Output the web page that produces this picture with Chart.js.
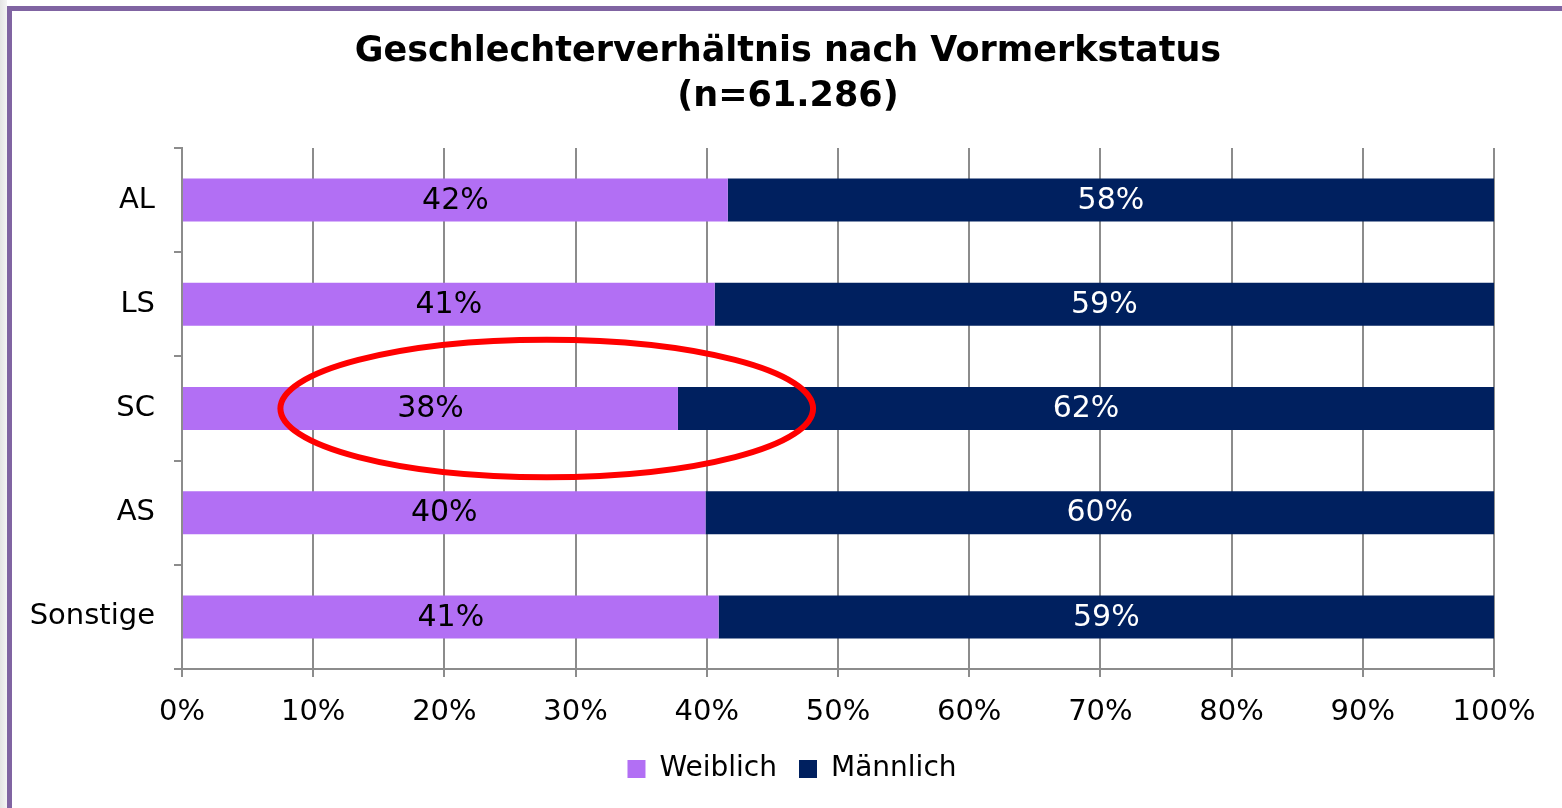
<!DOCTYPE html>
<html>
<head>
<meta charset="utf-8">
<script src="https://cdn.jsdelivr.net/npm/chart.js@4.4.1/dist/chart.umd.min.js"></script>
<style>
  html, body { margin: 0; padding: 0; background: #ffffff; width: 1562px; height: 808px; overflow: hidden; }
  #shade { position: absolute; left: 0; top: 0; width: 7px; height: 808px; background: linear-gradient(to right, #e4e4e4, #f4f4f4); }
  #frame { position: absolute; left: 7px; top: 6px; width: 1600px; height: 798px; border-left: 5px solid #8064a2; border-top: 5px solid #8064a2; border-bottom: 2px solid #a898c0; background: #ffffff; }
  #wrap { position: absolute; left: 0; top: 0; width: 1562px; height: 808px; }
</style>
</head>
<body>
<div id="shade"></div>
<div id="frame"></div>
<div id="wrap"><canvas id="c" width="1562" height="808"></canvas></div>
<script>
const categories = ['AL', 'LS', 'SC', 'AS', 'Sonstige'];
const weiblich = [41.6, 40.6, 37.8, 39.9, 40.9];
const maennlich = [58.4, 59.4, 62.2, 60.1, 59.1];
const seriesNames = ['Weiblich', 'Männlich'];
const titleLines = ['Geschlechterverhältnis nach Vormerkstatus', '(n=61.286)'];
const xTicks = [0, 10, 20, 30, 40, 50, 60, 70, 80, 90, 100];
const highlightCategory = 'SC';
const highlightRange = [7.5, 48.1];

const FONT = "'DejaVu Sans', Verdana, sans-serif";

const titlePlugin = {
  id: 'customTitle',
  afterDraw(chart) {
    const ctx = chart.ctx;
    ctx.save();
    ctx.font = 'bold 35px ' + FONT;
    ctx.fillStyle = '#000000';
    ctx.textAlign = 'center';
    ctx.textBaseline = 'middle';
    ctx.fillText(titleLines[0], 788, 52);
    ctx.fillText(titleLines[1], 788, 97);
    ctx.restore();
  }
};

const legendShift = {
  id: 'legendShift',
  afterLayout(chart) {
    const lg = chart.legend;
    if (lg) { lg.left += 45; lg.right += 45; if (lg.adjustHitBoxes) lg.adjustHitBoxes(); }
  }
};

const labelPlugin = {
  id: 'barLabels',
  afterDatasetsDraw(chart) {
    const ctx = chart.ctx;
    ctx.save();
    ctx.font = '30px ' + FONT;
    ctx.textAlign = 'center';
    ctx.textBaseline = 'middle';
    chart.data.datasets.forEach((ds, di) => {
      const meta = chart.getDatasetMeta(di);
      meta.data.forEach((bar, i) => {
        const p = bar.getProps(['x', 'y', 'base'], true);
        const cx = (p.x + p.base) / 2;
        ctx.fillStyle = di === 0 ? '#000000' : '#ffffff';
        ctx.fillText(Math.round(ds.data[i]) + '%', cx, p.y + 1);
      });
    });
    // highlight ellipse
    const xs = chart.scales.x, ys = chart.scales.y;
    const idx = categories.indexOf(highlightCategory);
    const x0 = xs.getPixelForValue(highlightRange[0]);
    const x1 = xs.getPixelForValue(highlightRange[1]);
    const cy = ys.getPixelForValue(idx);
    const ry = Math.abs(ys.getPixelForValue(idx + 0.66) - cy);
    ctx.beginPath();
    ctx.ellipse((x0 + x1) / 2, cy, (x1 - x0) / 2, ry, 0, 0, Math.PI * 2);
    ctx.lineWidth = 6;
    ctx.strokeStyle = '#ff0000';
    ctx.stroke();
    ctx.restore();
  }
};

new Chart(document.getElementById('c'), {
  type: 'bar',
  data: {
    labels: categories,
    datasets: [
      { label: seriesNames[0], data: weiblich, backgroundColor: '#b26ff4', borderWidth: 0, categoryPercentage: 1, barPercentage: 0.413 },
      { label: seriesNames[1], data: maennlich, backgroundColor: '#00205f', borderWidth: 0, categoryPercentage: 1, barPercentage: 0.413 }
    ]
  },
  options: {
    indexAxis: 'y',
    responsive: false,
    animation: false,
    devicePixelRatio: 1,
    layout: { padding: { left: 0, right: 68, top: 148, bottom: 15 } },
    plugins: {
      title: { display: false },
      legend: {
        display: true,
        position: 'bottom',
        labels: {
          color: '#000000',
          font: { family: FONT, size: 28 },
          boxWidth: 18,
          boxHeight: 18,
          padding: 22
        }
      },
      tooltip: { enabled: false }
    },
    scales: {
      x: {
        stacked: true,
        min: 0,
        max: 100,
        afterBuildTicks(scale) { scale.ticks = xTicks.map(v => ({ value: v })); },
        afterFit(scale) { scale.height = 64; },
        ticks: {
          color: '#000000',
          font: { family: FONT, size: 29 },
          padding: 18,
          maxRotation: 0,
          callback: (v) => v + '%'
        },
        grid: { color: '#8c8c8c', lineWidth: 2, tickLength: 8, drawTicks: true },
        border: { color: '#8c8c8c', width: 2 }
      },
      y: {
        stacked: true,
        afterFit(scale) { scale.width = 182; },
        ticks: {
          color: '#000000',
          font: { family: FONT, size: 29 },
          padding: 19
        },
        grid: { offset: true, drawOnChartArea: false, color: '#8c8c8c', lineWidth: 2, tickLength: 8 },
        border: { color: '#8c8c8c', width: 2 }
      }
    }
  },
  plugins: [labelPlugin, titlePlugin, legendShift]
});
</script>
</body>
</html>
